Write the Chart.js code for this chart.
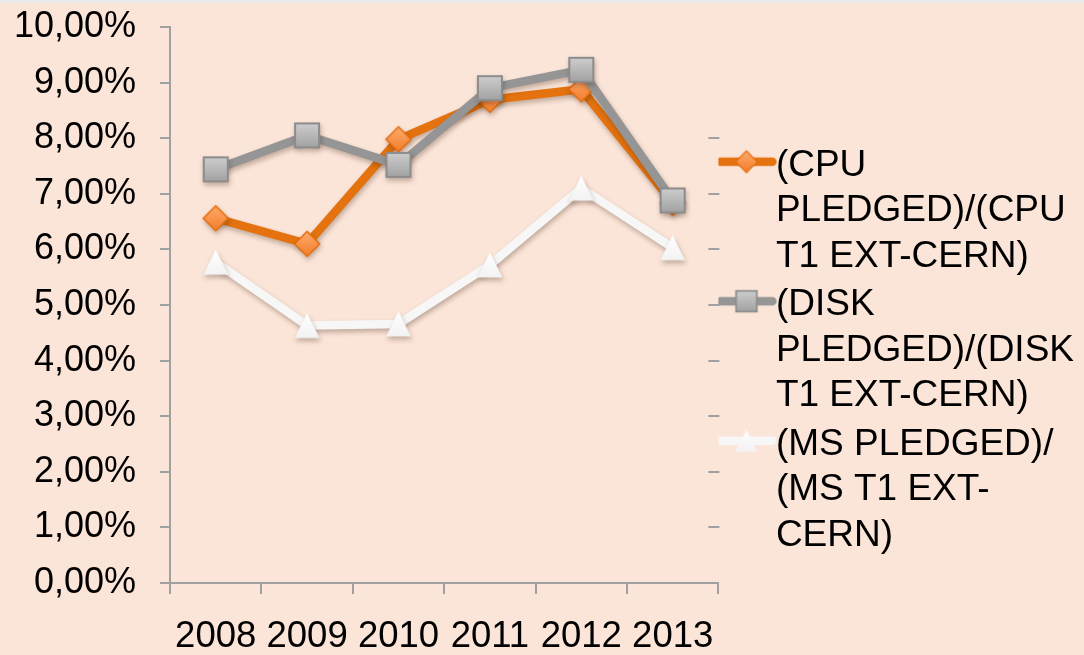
<!DOCTYPE html>
<html>
<head>
<meta charset="utf-8">
<script src="https://cdn.jsdelivr.net/npm/chart.js@4"></script>
<style>
  html, body { margin: 0; padding: 0; background: #FBE5D8; }
  #wrap { position: relative; width: 1084px; height: 655px; }
  #strip { position: absolute; left: 0; top: 0; width: 1084px; height: 3px; background: #EBEBEB; }
</style>
</head>
<body>
<div id="wrap">
  <canvas id="ratioChart" width="1084" height="655"></canvas>
  <div id="strip"></div>
</div>
<script>
var years = ['2008', '2009', '2010', '2011', '2012', '2013'];
var cpuRatio = [6.56, 6.10, 7.98, 8.69, 8.88, 6.84];
var diskRatio = [7.44, 8.05, 7.52, 8.90, 9.23, 6.88];
var msRatio = [5.77, 4.63, 4.66, 5.72, 7.10, 6.03];
var rightTickValues = [1, 2, 3, 4, 5, 6, 7, 8];

var cpuLabel = ['(CPU', 'PLEDGED)/(CPU', 'T1 EXT-CERN)'];
var diskLabel = ['(DISK', 'PLEDGED)/(DISK', 'T1 EXT-CERN)'];
var msLabel = ['(MS PLEDGED)/', '(MS T1 EXT-', 'CERN)'];

var fontFamily = '"Liberation Sans", Arial, sans-serif';
var axisGray = '#A0A0A0';

// marker pictures, drawn once and handed to chart.js as pointStyle
function makeMarker(kind) {
    var c = document.createElement('canvas');
    c.width = 30; c.height = 30;
    var g = c.getContext('2d');
    var grad = g.createLinearGradient(0, 3, 0, 27);
    if (kind === 'diamond') {
        grad.addColorStop(0, '#FFAA6C');
        grad.addColorStop(1, '#F27E2C');
        g.beginPath();
        g.moveTo(15, 2.5); g.lineTo(27.5, 15); g.lineTo(15, 27.5); g.lineTo(2.5, 15);
        g.closePath();
        g.fillStyle = grad; g.fill();
        g.strokeStyle = '#E46C0A'; g.lineWidth = 1.5; g.stroke();
    } else if (kind === 'square') {
        grad.addColorStop(0, '#CDCDCD');
        grad.addColorStop(1, '#A2A2A2');
        g.fillStyle = grad;
        g.fillRect(3, 3, 24, 24);
        g.strokeStyle = '#8C8C8C'; g.lineWidth = 2;
        g.strokeRect(3, 3, 24, 24);
    } else {
        grad.addColorStop(0, '#FFFFFF');
        grad.addColorStop(1, '#F3F3F3');
        g.beginPath();
        g.moveTo(15, 2.5); g.lineTo(27.5, 27.5); g.lineTo(2.5, 27.5);
        g.closePath();
        g.fillStyle = grad; g.fill();
    }
    return c;
}

function makeLegendIcon(lineColor, marker) {
    var c = document.createElement('canvas');
    c.width = 80; c.height = 40;
    var g = c.getContext('2d');
    g.strokeStyle = lineColor;
    g.lineWidth = 8.5;
    g.lineCap = 'round';
    g.beginPath();
    g.moveTo(21, 16); g.lineTo(73, 16);
    g.stroke();
    g.drawImage(marker, 47 - 13, 16 - 13, 26, 26);
    return c;
}

var diamond = makeMarker('diamond');
var square = makeMarker('square');
var triangle = makeMarker('triangle');

var seriesColors = ['#E3720F', '#959595', '#F7F7F7'];
var seriesMarkers = [diamond, square, triangle];
var seriesLabels = [cpuLabel, diskLabel, msLabel];

var markerShadow = {
    id: 'markerShadow',
    beforeDatasetsDraw: function(chart) {
        var c = chart.ctx;
        c.save();
        c.shadowColor = 'rgba(60,30,10,0.30)';
        c.shadowBlur = 5;
        c.shadowOffsetX = 1;
        c.shadowOffsetY = 3;
    },
    afterDatasetsDraw: function(chart) {
        chart.ctx.restore();
    }
};

// the little dashes sitting just inside the right edge of the plot
var innerTicks = {
    id: 'innerTicks',
    afterDraw: function(chart) {
        var c = chart.ctx, area = chart.chartArea, y = chart.scales.y;
        c.save();
        c.strokeStyle = axisGray;
        c.lineWidth = 2;
        rightTickValues.forEach(function(v) {
            var py = Math.round(y.getPixelForValue(v));
            c.beginPath();
            c.moveTo(area.right - 10, py);
            c.lineTo(area.right + 1, py);
            c.stroke();
        });
        c.restore();
    }
};

function noOverhang(scale) {
    scale.paddingTop = 0;
    scale.paddingBottom = 0;
    scale.paddingLeft = 0;
    scale.paddingRight = 0;
}

function lineSet(label, data, idx, order) {
    return {
        label: label.join(' '),
        data: data,
        borderColor: seriesColors[idx],
        backgroundColor: seriesColors[idx],
        borderWidth: 8.5,
        borderJoinStyle: 'round',
        borderCapStyle: 'round',
        tension: 0,
        pointStyle: seriesMarkers[idx],
        pointRadius: 12,
        pointHoverRadius: 12,
        order: order,
        clip: false
    };
}

var ctx = document.getElementById('ratioChart');
var ratioChart = new Chart(ctx, {
    type: 'line',
    data: {
        labels: years,
        datasets: [
            lineSet(cpuLabel, cpuRatio, 0, 1),
            lineSet(diskLabel, diskRatio, 1, 0),
            lineSet(msLabel, msRatio, 2, 2)
        ]
    },
    plugins: [markerShadow, innerTicks],
    options: {
        responsive: false,
        animation: false,
        layout: {
            autoPadding: false,
            padding: { left: 14, top: 27, right: 0, bottom: 0 }
        },
        scales: {
            x: {
                offset: true,
                afterFit: function(scale) {
                    noOverhang(scale);
                    scale.height = 72;
                },
                grid: {
                    offset: true,
                    drawOnChartArea: false,
                    tickLength: 11,
                    color: axisGray,
                    lineWidth: 2
                },
                border: { color: axisGray, width: 2 },
                ticks: {
                    padding: 25,
                    color: '#000',
                    maxRotation: 0,
                    autoSkip: false,
                    font: { family: fontFamily, size: 36.5, lineHeight: 1 }
                }
            },
            y: {
                min: 0,
                max: 10,
                afterFit: function(scale) {
                    noOverhang(scale);
                    scale.width = 156;
                },
                grid: {
                    drawOnChartArea: false,
                    tickLength: 10,
                    color: axisGray,
                    lineWidth: 2
                },
                border: { color: axisGray, width: 2 },
                ticks: {
                    stepSize: 1,
                    padding: 24,
                    color: '#000',
                    font: { family: fontFamily, size: 36, lineHeight: 1.2 },
                    callback: function(v) {
                        return v.toFixed(2).replace('.', ',') + '%';
                    }
                }
            }
        },
        plugins: {
            tooltip: { enabled: false },
            legend: {
                position: 'right',
                maxWidth: 400,
                title: {
                    display: true,
                    text: '',
                    font: { size: 10, lineHeight: 1 },
                    padding: { top: 18, bottom: 0 }
                },
                labels: {
                    usePointStyle: true,
                    pointStyleWidth: 36,
                    padding: 3,
                    color: '#000',
                    font: { family: fontFamily, size: 37, lineHeight: 1.23 },
                    generateLabels: function(chart) {
                        return chart.data.datasets.map(function(ds, i) {
                            return {
                                text: seriesLabels[i],
                                datasetIndex: i,
                                pointStyle: makeLegendIcon(seriesColors[i], seriesMarkers[i]),
                                fillStyle: seriesColors[i],
                                strokeStyle: seriesColors[i],
                                lineWidth: 0,
                                hidden: false,
                                fontColor: '#000'
                            };
                        });
                    }
                }
            }
        }
    }
});
</script>
</body>
</html>
